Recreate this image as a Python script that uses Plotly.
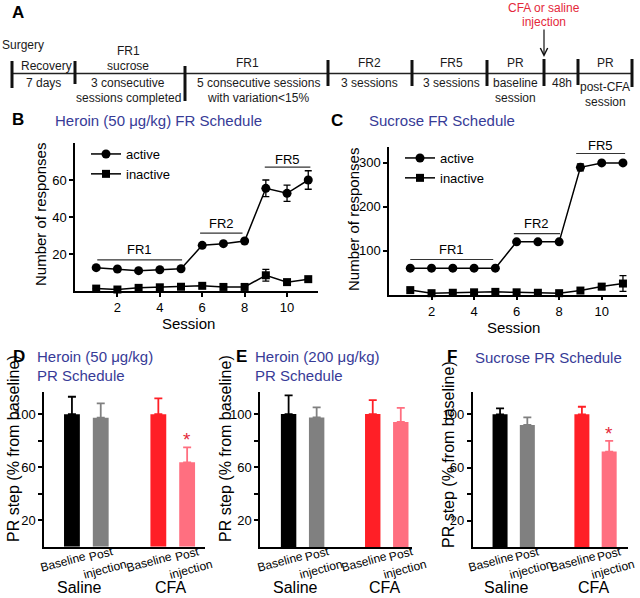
import plotly.graph_objects as go

W, H = 640, 598
FONT = "Liberation Sans, Arial, Helvetica, sans-serif"
BLUE = "#373b97"
RED_TXT = "#e4283a"

# ---------------- data ----------------
sessions = [1, 2, 3, 4, 5, 6, 7, 8, 9, 10, 11]
heroin_fr_active = [12.6, 11.9, 11.0, 11.5, 12.0, 24.7, 25.6, 27.0, 55.5, 52.8, 60.0]
heroin_fr_active_err = [None, None, None, None, None, None, None, None, 4.5, 4.4, 5.0]
heroin_fr_inactive = [1.3, 0.8, 1.7, 2.0, 2.3, 2.8, 2.2, 2.2, 8.5, 4.8, 6.4]
heroin_fr_inactive_err = [None, None, None, None, None, None, None, None, 3.2, None, None]

sucrose_fr_active = [60, 60, 60, 60, 60, 120, 120, 120, 290, 300, 300]
sucrose_fr_active_err = [None, None, None, None, None, None, None, None, 8, None, None]
sucrose_fr_inactive = [10, 3, 4, 5, 6, 5, 4, 3, 9, 18, 25]
sucrose_fr_inactive_err = [None, None, None, None, None, None, None, None, None, 7, 18]

series_names = ["active", "inactive"]

phase_labels = ["FR1", "FR2", "FR5"]
heroin_phase_start = [1.05, 5.9, 8.95]
heroin_phase_end = [5.05, 7.9, 11.1]
heroin_phase_level = [16.8, 31.3, 67.0]
sucrose_phase_start = [1.0, 5.87, 8.8]
sucrose_phase_end = [4.9, 8.04, 11.1]
sucrose_phase_level = [79.8, 139.0, 321.5]

pr_positions = [1, 2, 4, 5]
pr_labels = ["Baseline", "Post<br>injection", "Baseline", "Post<br>injection"]
group_labels = ["Saline", "CFA"]
group_positions = [1.5, 4.5]

heroin50_pr = [100, 97.4, 100, 63.7]
heroin50_pr_err = [13.2, 10.8, 12.0, 11.3]
heroin200_pr = [100, 97.4, 100, 94.0]
heroin200_pr_err = [14.0, 7.6, 10.5, 10.7]
sucrose_pr = [100, 92.0, 100, 72.0]
sucrose_pr_err = [4.5, 5.7, 5.7, 8.0]
heroin50_sig = [False, False, False, True]
heroin200_sig = [False, False, False, False]
sucrose_sig = [False, False, False, True]

timeline_top = ["", "FR1", "FR1", "FR2", "FR5", "PR", "", "PR"]
timeline_mid = ["Recovery", "sucrose", "", "", "", "", "", ""]
timeline_low = ["7 days", "3 consecutive", "5 consecutive sessions", "3 sessions",
                "3 sessions", "baseline", "48h", "post-CFA"]
timeline_low2 = ["", "sessions completed", "with variation<15%", "", "", "session", "", "session"]

# ---------------- styles / layout positions ----------------
bar_colors = ["#000000", "#808080", "#ff1f26", "#ff6f80"]


def fx(px):
    return px / W


def fy(py):
    return 1 - py / H


def ann(**kw):
    d = dict(showarrow=False, xanchor="center", yanchor="middle")
    d.update(kw)
    return d


fig = go.Figure()

# ---- Panel B & C line charts ----
line_panels = [
    ("x", "y", "legend", heroin_fr_active, heroin_fr_active_err, heroin_fr_inactive, heroin_fr_inactive_err),
    ("x2", "y2", "legend2", sucrose_fr_active, sucrose_fr_active_err, sucrose_fr_inactive, sucrose_fr_inactive_err),
]
for xa, ya, lg, act, act_e, ina, ina_e in line_panels:
    for name, vals, errs, sym, size in [(series_names[0], act, act_e, "circle", 9),
                                       (series_names[1], ina, ina_e, "square", 8)]:
        fig.add_trace(go.Scatter(
            x=sessions, y=vals, name=name, mode="lines+markers",
            xaxis=xa, yaxis=ya, legend=lg,
            line=dict(color="black", width=1.5),
            marker=dict(symbol=sym, size=size, color="black"),
            error_y=dict(type="data", array=errs, color="black", thickness=1.3, width=3.5),
            cliponaxis=False,
        ))

# ---- Panels D, E, F bar charts ----
bar_panels = [
    ("x3", "y3", heroin50_pr, heroin50_pr_err, heroin50_sig),
    ("x4", "y4", heroin200_pr, heroin200_pr_err, heroin200_sig),
    ("x5", "y5", sucrose_pr, sucrose_pr_err, sucrose_sig),
]
annotations = []
for xa, ya, vals, errs, sig in bar_panels:
    for i in range(len(pr_positions)):
        fig.add_trace(go.Bar(
            x=[pr_positions[i]], y=[vals[i]], width=0.55,
            marker=dict(color=bar_colors[i], line=dict(width=0)),
            error_y=dict(type="data", array=[errs[i]], arrayminus=[0], symmetric=False,
                         color=bar_colors[i], thickness=1.8, width=4),
            xaxis=xa, yaxis=ya, showlegend=False,
        ))
        if sig[i]:
            annotations.append(ann(x=pr_positions[i], y=vals[i] + errs[i], xref=xa, yref=ya,
                                   text="*", yanchor="bottom", yshift=-5,
                                   font=dict(size=19, color=RED_TXT, family=FONT)))
    # rotated tick labels
    for i, lab in enumerate(pr_labels):
        annotations.append(ann(x=pr_positions[i], y=fy(562), xref=xa, yref="paper",
                               text=lab, textangle=-15,
                               xshift=-9 if "Baseline" in lab else 2,
                               font=dict(size=12, color="black", family=FONT)))
    for g, gp in zip(group_labels, group_positions):
        annotations.append(ann(x=gp, y=fy(587), xref=xa, yref="paper", text=g,
                               xshift=-7 if g == "Saline" else -2,
                               font=dict(size=16, color="black", family=FONT)))

# ---- phase brackets on B & C ----
shapes = []
for xa, ya, st, en, lv in [("x", "y", heroin_phase_start, heroin_phase_end, heroin_phase_level),
                          ("x2", "y2", sucrose_phase_start, sucrose_phase_end, sucrose_phase_level)]:
    for lab, s, e, l in zip(phase_labels, st, en, lv):
        shapes.append(dict(type="line", xref=xa, yref=ya, x0=s, x1=e, y0=l, y1=l,
                           line=dict(color="#333333", width=1.2)))
        annotations.append(ann(x=(s + e) / 2, y=l, xref=xa, yref=ya, text=lab,
                               yshift=10 if lab != "FR5" else 8,
                               font=dict(size=13, color="black", family=FONT)))

# ---- Panel A timeline ----
tl_y = 73.5
tl_bounds = [12, 75, 185, 328, 412, 487, 544, 578, 632]
tl_spans = [(61, 88), (61, 84), (66, 101), (60, 86), (60, 86), (60, 86), (59, 86), (59, 85), (59, 87)]
shapes.append(dict(type="line", xref="paper", yref="paper", x0=fx(12), x1=fx(632),
                   y0=fy(tl_y), y1=fy(tl_y), line=dict(color="#222222", width=1.5)))
for bx, (a, b) in zip(tl_bounds, tl_spans):
    shapes.append(dict(type="line", xref="paper", yref="paper", x0=fx(bx), x1=fx(bx),
                       y0=fy(a), y1=fy(b), line=dict(color="#111111", width=3)))

tl_centers = [44, 128, 258, 369, 451, 515, 562, 605]
TL_FONT = dict(size=12, color="#1a1a1a", family=FONT)
for i, cx in enumerate(tl_centers):
    top = timeline_top[i]
    if top:
        ty = 51 if (i == 1) else 63
        annotations.append(ann(x=fx(cx if i != 2 else 247), y=fy(ty), xref="paper", yref="paper",
                               text=top, font=TL_FONT))
    if timeline_mid[i]:
        annotations.append(ann(x=fx(cx + (2 if i == 0 else 0)), y=fy(66.5), xref="paper", yref="paper",
                               text=timeline_mid[i], font=TL_FONT))
    annotations.append(ann(x=fx(cx - (1 if i == 0 else 0)), y=fy(83.5 if i != 7 else 87),
                           xref="paper", yref="paper", text=timeline_low[i], font=TL_FONT))
    if timeline_low2[i]:
        annotations.append(ann(x=fx(cx), y=fy(98.5 if i != 7 else 102), xref="paper", yref="paper",
                               text=timeline_low2[i], font=TL_FONT))
annotations.append(ann(x=fx(23), y=fy(45), xref="paper", yref="paper", text="Surgery", font=TL_FONT))
annotations.append(ann(x=fx(543.5), y=fy(7.5), xref="paper", yref="paper", text="CFA or saline",
                       font=dict(size=12, color=RED_TXT, family=FONT)))
annotations.append(ann(x=fx(543.5), y=fy(22), xref="paper", yref="paper", text="injection",
                       font=dict(size=12, color=RED_TXT, family=FONT)))
annotations.append(dict(x=fx(544), y=fy(57), xref="paper", yref="paper", text="", showarrow=True,
                        ax=0, ay=-29, arrowhead=5, arrowsize=1.2, arrowwidth=1.2, arrowcolor="#111111"))

# ---- panel letters and titles ----
LETTER = dict(size=17, color="black", family=FONT)
TITLE = dict(size=15, color=BLUE, family=FONT)
for t, x, y in [("A", 18, 13), ("B", 17.5, 120), ("C", 337, 120.5), ("D", 19, 356.5),
                ("E", 241, 356.5), ("F", 452, 356.5)]:
    annotations.append(ann(x=fx(x), y=fy(y), xref="paper", yref="paper", text="<b>%s</b>" % t,
                           font=LETTER))
for t, x, y in [("Heroin (50 μg/kg) FR Schedule", 53, 120.5), ("Sucrose FR Schedule", 366.5, 120.5),
                ("Heroin (50 μg/kg)", 35, 356.5), ("PR Schedule", 35, 375),
                ("Heroin (200 μg/kg)", 253, 356.5), ("PR Schedule", 253, 375),
                ("Sucrose PR Schedule", 473, 357)]:
    annotations.append(ann(x=fx(x), y=fy(y), xref="paper", yref="paper", text=t, xanchor="left",
                           font=TITLE))

# ---- axis titles ----
for t, x, y, ang, sz in [("Number of responses", 40, 215, -90, 15), ("Number of responses", 353, 220, -90, 15),
                         ("Session", 188, 323.5, 0, 15), ("Session", 513, 327, 0, 15),
                         ("PR step (% from baseline)", 13, 449, -90, 16),
                         ("PR step (% from baseline)", 225, 449, -90, 16),
                         ("PR step (% from baseline)", 448, 455, -90, 16)]:
    annotations.append(ann(x=fx(x), y=fy(y), xref="paper", yref="paper", text=t, textangle=ang,
                           font=dict(size=sz, color="black", family=FONT)))

AX = dict(showline=True, linecolor="black", linewidth=1.5, ticks="outside", ticklen=4, tickwidth=1.5,
          tickcolor="black", showgrid=False, zeroline=False,
          tickfont=dict(size=13, color="black", family=FONT))

pr_ticks = dict(tickvals=[20, 40, 60, 80, 100], ticktext=["20", "", "60", "", "100"])

fig.update_layout(
    width=W, height=H, margin=dict(l=0, r=0, t=0, b=0),
    paper_bgcolor="white", plot_bgcolor="white", showlegend=True, barmode="overlay",
    font=dict(family=FONT, color="black"),
    xaxis=dict(AX, domain=[fx(75), fx(318)], anchor="y", range=[0, 11.46], tickvals=[2, 4, 6, 8, 10]),
    yaxis=dict(AX, domain=[fy(291), fy(143)], anchor="x", range=[0, 80], tickvals=[20, 40, 60]),
    xaxis2=dict(AX, domain=[fx(389), fx(627)], anchor="y2", range=[0, 11.19], tickvals=[2, 4, 6, 8, 10]),
    yaxis2=dict(AX, domain=[fy(294.5), fy(146.7)], anchor="x2", range=[0, 337], tickvals=[100, 200, 300]),
    xaxis3=dict(AX, domain=[fx(44), fx(205)], anchor="y3", range=[0.03, 5.62], ticks="", showticklabels=False),
    yaxis3=dict(AX, domain=[fy(546.7), fy(391.7)], anchor="x3", range=[0, 117], **pr_ticks),
    xaxis4=dict(AX, domain=[fx(260), fx(412)], anchor="y4", range=[-0.02, 5.4], ticks="", showticklabels=False),
    yaxis4=dict(AX, domain=[fy(547), fy(391.7)], anchor="x4", range=[0, 116.8], **pr_ticks),
    xaxis5=dict(AX, domain=[fx(472.5), fx(628)], anchor="y5", range=[-0.01, 5.69], ticks="", showticklabels=False),
    yaxis5=dict(AX, domain=[fy(547.3), fy(391.7)], anchor="x5", range=[0, 117], **pr_ticks),
    legend=dict(x=fx(86), y=fy(139), xanchor="left", yanchor="top", bgcolor="rgba(0,0,0,0)",
                font=dict(size=13, family=FONT, color="black"), tracegroupgap=0),
    legend2=dict(x=fx(400), y=fy(143), xanchor="left", yanchor="top", bgcolor="rgba(0,0,0,0)",
                 font=dict(size=13, family=FONT, color="black"), tracegroupgap=0),
    shapes=shapes,
    annotations=annotations,
)

fig.write_html("out.html", config={"displayModeBar": False},
               post_script="document.body.style.margin='0px';document.body.style.overflow='hidden';")
